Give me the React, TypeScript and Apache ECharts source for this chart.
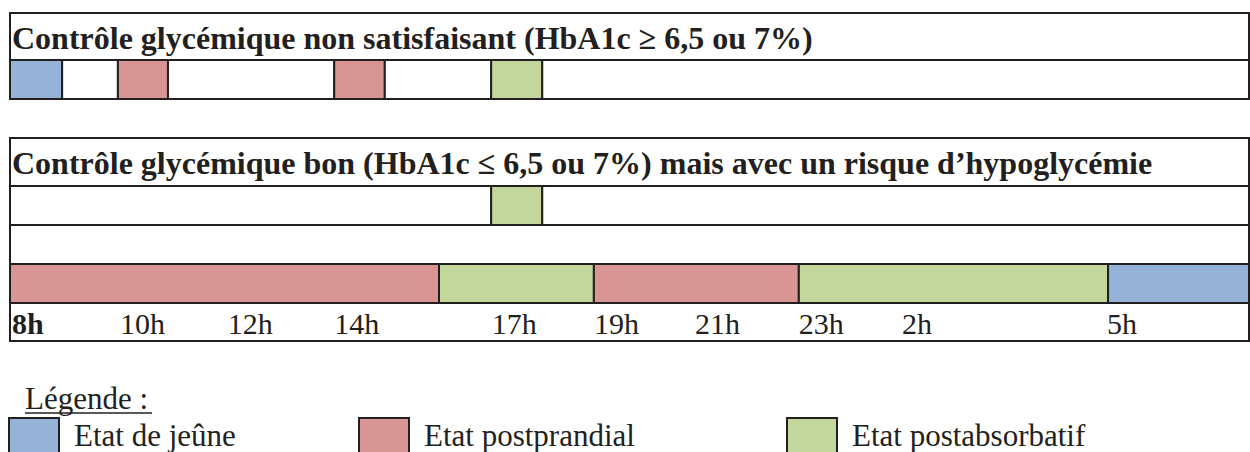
import React, { useEffect, useRef } from "react";
import * as echarts from "echarts";

// ---- data (x values are schematic hours counted from 8h) ----
const stateNames = ["Etat de jeûne", "Etat postprandial", "Etat postabsorbatif"];
const stateColors = ["#95b3d7", "#d99594", "#c3d69b"];

const titleNonSatisfaisant = "Contrôle glycémique non satisfaisant (HbA1c ≥ 6,5 ou 7%)";
const titleBon = "Contrôle glycémique bon (HbA1c ≤ 6,5 ou 7%) mais avec un risque d’hypoglycémie";

// [start, end, state]  (state -1 = empty cell)
const nonSatisfaisantRow = [
  [0, 1.01, 0], [1.01, 2.09, -1], [2.09, 3.06, 1], [3.06, 6.28, -1],
  [6.28, 7.26, 1], [7.26, 9.32, -1], [9.32, 10.31, 2], [10.31, 24, -1],
];
const bonRow1 = [[0, 9.32, -1], [9.32, 10.31, 2], [10.31, 24, -1]];
const bonRow2 = [[0, 24, -1]];
const bonRow3 = [[0, 8.31, 1], [8.31, 11.31, 2], [11.31, 15.28, 1], [15.28, 21.27, 2], [21.27, 24, 0]];

const timeLabels = ["8h", "10h", "12h", "14h", "17h", "19h", "21h", "23h", "2h", "5h"];
const timePositions = [0.04, 2.13, 4.22, 6.28, 9.33, 11.31, 13.27, 15.28, 17.28, 21.25];

const INK = "#231f20";
const FONT = "Liberation Serif";

export default function App() {
  const ref = useRef<HTMLDivElement>(null);
  useEffect(() => {
    if (!ref.current) return;
    const chart = echarts.init(ref.current, null, { renderer: "svg" });

    const cellData = (rows: number[][][]) => {
      const out: number[][] = [];
      rows.forEach((segs, r) => segs.forEach((s) => out.push([r, s[0], s[1], s[2]])));
      return out;
    };

    const renderCell = (params: any, api: any) => {
      const row = api.value(0);
      const start = api.value(1);
      const end = api.value(2);
      const state = api.value(3);
      const p0 = api.coord([start, row]);
      const p1 = api.coord([end, row]);
      const h = api.size([0, 1])[1];
      return {
        type: "rect",
        shape: { x: p0[0], y: p0[1] - h / 2, width: p1[0] - p0[0], height: h },
        style: { fill: state >= 0 ? stateColors[state] : "#ffffff", stroke: INK, lineWidth: 2 },
      };
    };

    const gridBase = { left: 10, width: 1239, containLabel: false };
    const xBase = { type: "value", min: 0, max: 24, show: false };

    const txt = (text: string, size: number, weight: string) => ({
      text,
      fill: INK,
      fontFamily: FONT,
      fontSize: size,
      fontWeight: weight,
      verticalAlign: "middle",
      align: "left",
    });

    const option: any = {
      animation: false,
      backgroundColor: "#ffffff",
      grid: [
        { ...gridBase, top: 60, height: 39 },
        { ...gridBase, top: 186, height: 117 },
        { ...gridBase, top: 303, height: 38 },
      ],
      xAxis: [
        { ...xBase, gridIndex: 0 },
        { ...xBase, gridIndex: 1 },
        { ...xBase, gridIndex: 2 },
      ],
      yAxis: [
        { type: "category", data: ["r0"], gridIndex: 0, show: false },
        { type: "category", data: ["r1", "r2", "r3"], inverse: true, gridIndex: 1, show: false },
        { type: "category", data: ["t"], gridIndex: 2, show: false },
      ],
      series: [
        {
          type: "custom",
          xAxisIndex: 0,
          yAxisIndex: 0,
          clip: false,
          renderItem: renderCell,
          data: cellData([nonSatisfaisantRow]),
        },
        {
          type: "custom",
          xAxisIndex: 1,
          yAxisIndex: 1,
          clip: false,
          renderItem: renderCell,
          data: cellData([bonRow1, bonRow2, bonRow3]),
        },
        {
          type: "custom",
          xAxisIndex: 2,
          yAxisIndex: 2,
          clip: false,
          renderItem: (params: any, api: any) => {
            const idx = api.value(1);
            const p = api.coord([api.value(0), 0]);
            return {
              type: "text",
              x: p[0],
              y: p[1] + 1,
              style: txt(timeLabels[idx], 30, idx === 0 ? "bold" : "normal"),
            };
          },
          data: timePositions.map((p, i) => [p, i]),
        },
      ],
      graphic: [
        // top table title row
        { type: "rect", shape: { x: 10, y: 13, width: 1239, height: 47 }, style: { fill: "#fff", stroke: INK, lineWidth: 2 }, z: 0 },
        { type: "text", x: 12, y: 38, style: txt(titleNonSatisfaisant, 32, "bold") },
        // bottom table title row
        { type: "rect", shape: { x: 10, y: 138, width: 1239, height: 48 }, style: { fill: "#fff", stroke: INK, lineWidth: 2 }, z: 0 },
        { type: "text", x: 12, y: 163, style: txt(titleBon, 32, "bold") },
        // label row frame
        { type: "rect", shape: { x: 10, y: 303, width: 1239, height: 38 }, style: { fill: "none", stroke: INK, lineWidth: 2 }, z: 0 },
        // legend
        { type: "text", x: 25, y: 398, style: txt("Légende :", 31, "normal") },
        { type: "line", shape: { x1: 25, y1: 413, x2: 152, y2: 413 }, style: { stroke: INK, lineWidth: 1.5 } },
        ...[9, 359, 787].flatMap((bx, i) => [
          { type: "rect", shape: { x: bx, y: 418, width: 50, height: 40 }, style: { fill: stateColors[i], stroke: INK, lineWidth: 2 } },
          { type: "text", x: bx + 65, y: 435, style: txt(stateNames[i], 31, "normal") },
        ]),
      ],
    };
    chart.setOption(option);
    return () => chart.dispose();
  }, []);
  return <div ref={ref} style={{ position: "absolute", left: 0, top: 0, width: 1250, height: 452 }} />;
}
